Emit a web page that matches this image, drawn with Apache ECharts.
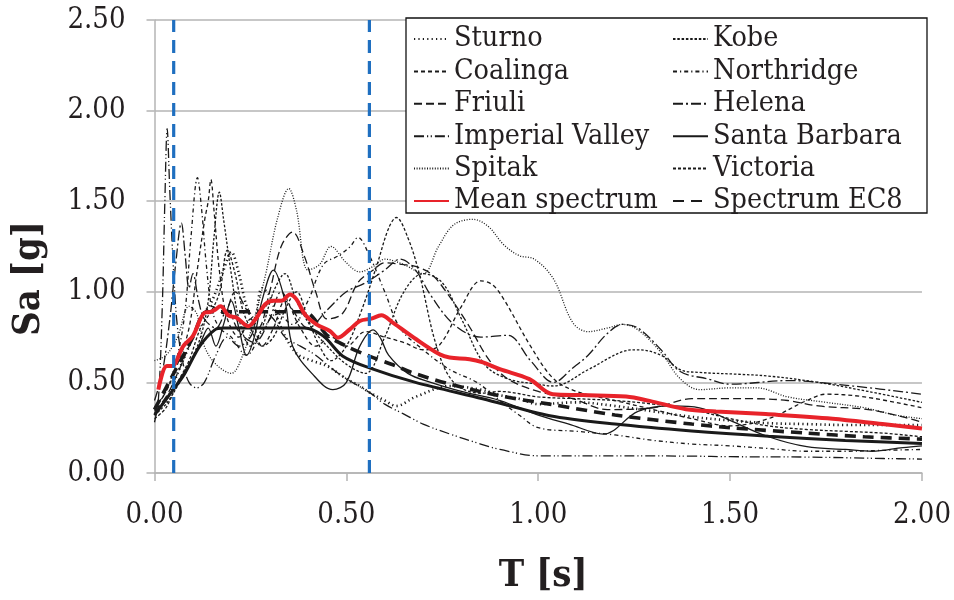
<!DOCTYPE html>
<html><head><meta charset="utf-8">
<script src="https://cdn.jsdelivr.net/npm/echarts@6/dist/echarts.min.js"></script>
<style>html,body{margin:0;padding:0;background:#fff}#c{width:954px;height:600px}</style>
</head><body><div id="c"></div>
<script>
// ---- data: [period T (s), spectral acceleration Sa (g)] ----
const sturno = [[0,0.35],[0.03,0.4],[0.06,0.55],[0.09,0.7],[0.12,0.85],[0.15,0.95],[0.18,1.12],[0.2,1.22],[0.22,1.1],[0.24,0.92],[0.26,0.85],[0.28,1.02],[0.3,0.98],[0.33,0.8],[0.37,0.66],[0.41,0.62],[0.45,0.59],[0.5,0.52],[0.535,0.48],[0.56,0.445],[0.6,0.4],[0.63,0.37],[0.68,0.42],[0.77,0.48],[0.85,0.46],[0.9,0.43],[0.95,0.41],[1.0,0.38],[1.1,0.39],[1.2,0.37],[1.3,0.34],[1.4,0.31],[1.5,0.29],[1.6,0.275],[1.7,0.27],[1.8,0.265],[1.9,0.265],[2.0,0.265]];
const kobe = [[0,0.32],[0.03,0.38],[0.06,0.48],[0.09,0.6],[0.12,0.75],[0.14,0.95],[0.155,1.3],[0.169,1.55],[0.18,1.4],[0.2,1.1],[0.22,0.85],[0.25,0.7],[0.28,0.8],[0.31,1.0],[0.34,1.1],[0.37,0.95],[0.41,0.8],[0.45,0.7],[0.5,0.6],[0.55,0.55],[0.6,0.75],[0.65,1.0],[0.7,1.1],[0.75,1.05],[0.8,0.85],[0.86,0.6],[0.92,0.52],[1.0,0.49],[1.04,0.48],[1.13,0.57],[1.22,0.67],[1.26,0.68],[1.32,0.65],[1.37,0.57],[1.42,0.555],[1.52,0.545],[1.6,0.535],[1.73,0.5],[1.86,0.45],[2.0,0.39]];
const coalinga = [[0,0.36],[0.03,0.45],[0.06,0.6],[0.09,0.8],[0.11,1.1],[0.131,1.4],[0.14,1.5],[0.147,1.62],[0.155,1.45],[0.17,1.1],[0.19,0.85],[0.22,0.75],[0.25,0.85],[0.28,0.7],[0.31,0.8],[0.34,0.95],[0.38,0.8],[0.42,0.7],[0.46,0.75],[0.5,0.7],[0.55,0.78],[0.6,0.75],[0.65,0.72],[0.7,0.68],[0.74,0.7],[0.8,0.92],[0.85,1.06],[0.88,1.04],[0.91,0.96],[0.98,0.7],[1.04,0.52],[1.1,0.45],[1.2,0.4],[1.3,0.35],[1.4,0.3],[1.5,0.26],[1.6,0.3],[1.7,0.4],[1.75,0.435],[1.85,0.42],[2.0,0.36]];
const northridge = [[0,0.36],[0.03,0.45],[0.06,0.65],[0.08,0.9],[0.095,1.3],[0.112,1.63],[0.123,1.45],[0.135,1.15],[0.15,0.9],[0.17,0.8],[0.2,0.75],[0.24,0.65],[0.28,0.78],[0.32,0.88],[0.36,0.82],[0.4,0.95],[0.44,1.15],[0.48,1.2],[0.51,1.25],[0.53,1.3],[0.56,1.2],[0.6,1.0],[0.64,0.8],[0.7,0.68],[0.77,0.57],[0.84,0.5],[0.9,0.4],[0.95,0.32],[1.0,0.25],[1.1,0.23],[1.2,0.21],[1.3,0.18],[1.4,0.16],[1.5,0.15],[1.6,0.135],[1.7,0.12],[1.8,0.12],[1.9,0.125],[2.0,0.13]];
const friuli = [[0,0.34],[0.03,0.42],[0.06,0.55],[0.09,0.7],[0.12,0.85],[0.15,0.92],[0.18,0.88],[0.21,1.0],[0.24,0.9],[0.27,0.8],[0.3,1.0],[0.33,1.25],[0.36,1.33],[0.39,1.2],[0.42,1.0],[0.45,0.85],[0.49,0.88],[0.53,1.05],[0.57,1.12],[0.6,1.16],[0.65,1.15],[0.68,1.14],[0.72,1.1],[0.76,1.0],[0.82,0.81],[0.87,0.63],[0.92,0.52],[1.0,0.45],[1.09,0.41],[1.18,0.35],[1.3,0.36],[1.4,0.41],[1.5,0.41],[1.56,0.41],[1.65,0.4],[1.73,0.37],[1.86,0.35],[1.95,0.31],[2.0,0.28]];
const helena = [[0,0.4],[0.02,0.55],[0.04,0.85],[0.055,1.15],[0.07,1.38],[0.08,1.2],[0.09,1.02],[0.1,1.1],[0.115,0.95],[0.13,0.85],[0.16,0.8],[0.19,0.9],[0.22,0.78],[0.26,0.72],[0.3,0.85],[0.33,1.0],[0.36,0.9],[0.4,0.8],[0.45,0.9],[0.5,1.0],[0.55,1.05],[0.6,1.12],[0.64,1.18],[0.68,1.12],[0.72,0.98],[0.78,0.82],[0.85,0.75],[0.92,0.76],[0.98,0.62],[1.04,0.5],[1.09,0.58],[1.13,0.65],[1.18,0.77],[1.22,0.82],[1.26,0.8],[1.32,0.68],[1.37,0.56],[1.44,0.52],[1.5,0.49],[1.65,0.51],[1.82,0.48],[2.0,0.435]];
const imperialValley = [[0,0.28],[0.01,0.4],[0.02,0.9],[0.027,1.5],[0.033,1.9],[0.04,1.55],[0.05,1.1],[0.06,0.8],[0.075,0.6],[0.09,0.5],[0.11,0.47],[0.13,0.5],[0.16,0.65],[0.19,0.75],[0.22,0.7],[0.25,0.75],[0.28,0.9],[0.31,0.85],[0.34,0.75],[0.38,0.7],[0.42,0.65],[0.46,0.58],[0.5,0.52],[0.56,0.445],[0.6,0.38],[0.65,0.325],[0.7,0.27],[0.77,0.215],[0.85,0.16],[0.9,0.13],[1.0,0.095],[1.2,0.095],[1.4,0.093],[1.5,0.09],[1.7,0.088],[1.9,0.08],[2.0,0.077]];
const santaBarbara = [[0,0.33],[0.03,0.4],[0.06,0.5],[0.09,0.6],[0.12,0.72],[0.14,0.8],[0.16,0.7],[0.18,0.82],[0.2,0.95],[0.22,0.8],[0.24,0.65],[0.26,0.75],[0.28,0.95],[0.31,1.12],[0.34,0.95],[0.36,0.7],[0.41,0.55],[0.465,0.46],[0.5,0.5],[0.535,0.7],[0.57,0.79],[0.59,0.74],[0.61,0.65],[0.66,0.55],[0.72,0.5],[0.8,0.45],[0.9,0.4],[1.0,0.32],[1.08,0.27],[1.17,0.215],[1.26,0.34],[1.35,0.37],[1.42,0.36],[1.5,0.29],[1.6,0.2],[1.7,0.145],[1.8,0.13],[1.87,0.12],[1.95,0.14],[2.0,0.15]];
const spitak = [[0,0.62],[0.03,0.65],[0.06,0.75],[0.09,0.92],[0.11,0.88],[0.13,0.7],[0.16,0.6],[0.2,0.55],[0.23,0.65],[0.26,0.85],[0.29,1.1],[0.32,1.4],[0.35,1.57],[0.37,1.45],[0.4,1.12],[0.43,1.15],[0.46,1.25],[0.5,1.16],[0.535,1.11],[0.57,1.14],[0.6,1.18],[0.65,1.15],[0.7,1.1],[0.74,1.25],[0.78,1.37],[0.83,1.4],[0.87,1.36],[0.91,1.26],[0.95,1.2],[0.99,1.18],[1.04,1.07],[1.09,0.83],[1.13,0.78],[1.18,0.8],[1.22,0.82],[1.26,0.79],[1.32,0.665],[1.37,0.52],[1.42,0.46],[1.5,0.47],[1.57,0.47],[1.65,0.42],[1.75,0.39],[1.85,0.36],[1.93,0.32],[2.0,0.3]];
const victoria = [[0,0.3],[0.03,0.36],[0.06,0.5],[0.09,0.62],[0.12,0.8],[0.15,0.9],[0.17,1.0],[0.19,1.23],[0.21,1.1],[0.23,0.9],[0.25,0.8],[0.28,0.7],[0.31,0.75],[0.34,0.9],[0.37,1.0],[0.4,0.85],[0.43,0.7],[0.46,0.62],[0.5,0.7],[0.54,0.9],[0.58,1.15],[0.61,1.35],[0.63,1.41],[0.66,1.3],[0.69,1.1],[0.735,0.7],[0.78,0.5],[0.85,0.44],[0.9,0.45],[1.0,0.42],[1.1,0.41],[1.2,0.4],[1.3,0.38],[1.4,0.35],[1.5,0.3],[1.6,0.26],[1.7,0.24],[1.8,0.23],[1.9,0.22],[2.0,0.2]];
const meanSpectrum = [[0.01,0.46],[0.032,0.59],[0.045,0.59],[0.075,0.7],[0.1,0.756],[0.131,0.885],[0.144,0.888],[0.157,0.9],[0.172,0.92],[0.192,0.87],[0.214,0.857],[0.244,0.81],[0.266,0.857],[0.288,0.93],[0.309,0.95],[0.331,0.95],[0.353,0.985],[0.37,0.958],[0.392,0.875],[0.422,0.82],[0.457,0.784],[0.478,0.747],[0.509,0.793],[0.535,0.839],[0.565,0.852],[0.591,0.87],[0.621,0.83],[0.682,0.738],[0.743,0.655],[0.769,0.637],[0.821,0.628],[0.856,0.61],[0.9,0.573],[0.977,0.518],[1.038,0.435],[1.116,0.43],[1.229,0.422],[1.29,0.398],[1.385,0.352],[1.463,0.34],[1.593,0.325],[1.767,0.3],[1.897,0.27],[2.0,0.246]];
const spectrumEC8 = [[0,0.35],[0.05,0.55],[0.1,0.75],[0.13,0.885],[0.15,0.89],[0.2,0.89],[0.3,0.89],[0.39,0.89],[0.45,0.76],[0.5,0.7],[0.56,0.645],[0.63,0.59],[0.67,0.555],[0.77,0.49],[0.9,0.426],[1.03,0.38],[1.2,0.32],[1.4,0.27],[1.5,0.25],[1.7,0.22],[1.85,0.2],[2.0,0.187]];
const designSpectrum = [[0,0.32],[0.04,0.435],[0.075,0.535],[0.118,0.7],[0.157,0.79],[0.18,0.8],[0.25,0.8],[0.3,0.8],[0.36,0.8],[0.39,0.8],[0.44,0.756],[0.49,0.646],[0.56,0.58],[0.68,0.5],[0.855,0.41],[1.03,0.316],[1.2,0.27],[1.4,0.232],[1.6,0.203],[1.8,0.18],[2.0,0.163]];
const limitPeriods = [0.05, 0.56];
const legendLeftColumn = ['Sturno', 'Coalinga', 'Friuli', 'Imperial Valley', 'Spitak', 'Mean spectrum'];
const legendRightColumn = ['Kobe', 'Northridge', 'Helena', 'Santa Barbara', 'Victoria', 'Spectrum EC8'];

const FONT = "'DejaVu Serif Condensed', 'DejaVu Serif', serif";
const INK = '#231f20';
const BLK = '#1a1a1a';
const GRID = '#b4b4b4';

function rec(name, data, type, width) {
  return { name, type: 'line', data, smooth: 0.35, symbol: 'none', silent: true, z: 3,
    lineStyle: { color: BLK, width: width || 1.3, type: type, cap: 'butt' } };
}
const series = [
  rec('Sturno', sturno, [1.2, 3.2], 2.6),
  rec('Kobe', kobe, [2.5, 1.8]),
  rec('Coalinga', coalinga, [4, 3]),
  rec('Northridge', northridge, [4, 3, 1.2, 3]),
  rec('Friuli', friuli, [8, 4]),
  rec('Helena', helena, [10, 3, 2, 3]),
  rec('Imperial Valley', imperialValley, [10, 3, 1.2, 2.5, 1.2, 3]),
  rec('Santa Barbara', santaBarbara, 'solid'),
  rec('Spitak', spitak, [1, 1.6]),
  rec('Victoria', victoria, [3, 2]),
  { name: 'Design', type: 'line', data: designSpectrum, smooth: 0.3, symbol: 'none', silent: true, z: 4,
    lineStyle: { color: BLK, width: 3 } },
  { name: 'Spectrum EC8', type: 'line', data: spectrumEC8, smooth: 0.3, symbol: 'none', silent: true, z: 4,
    lineStyle: { color: BLK, width: 3.6, type: [11, 7] } },
  { name: 'Mean spectrum', type: 'line', data: meanSpectrum, smooth: 0.35, symbol: 'none', silent: true, z: 5,
    lineStyle: { color: '#e8232a', width: 4 } }
];
limitPeriods.forEach((t, i) => series.push({
  name: 'limit' + i, type: 'line', data: [[t, 0], [t, 2.5]], symbol: 'none', silent: true, z: 6,
  lineStyle: { color: '#1f6fc0', width: 3.2, type: [13, 8] }
}));

const legendText = { fontFamily: FONT, fontSize: 28.5, color: INK, lineHeight: 30 };
const legendBase = { orient: 'vertical', top: 24, padding: 0, itemWidth: 35, itemHeight: 14, itemGap: 2.4,
  selectedMode: false, z: 120, textStyle: legendText, itemStyle: { opacity: 0 } };

const chart = echarts.init(document.getElementById('c'), null, { renderer: 'canvas' });
chart.setOption({
  animation: false,
  backgroundColor: '#fff',
  grid: { left: 154.5, right: 31, top: 20, bottom: 126 },
  xAxis: {
    type: 'value', min: 0, max: 2, interval: 0.5,
    name: 'T [s]', nameLocation: 'middle', nameGap: 84,
    nameTextStyle: { fontFamily: FONT, fontSize: 38, fontWeight: 'bold', color: INK, padding: [0, 0, 0, 10] },
    axisLine: { show: true, lineStyle: { color: GRID, width: 1.5 } },
    axisTick: { show: true, length: 8, lineStyle: { color: GRID, width: 1.5 } },
    splitLine: { show: false },
    axisLabel: { fontFamily: FONT, fontSize: 29, color: INK, margin: 28, formatter: v => v.toFixed(2) }
  },
  yAxis: {
    type: 'value', min: 0, max: 2.5, interval: 0.5,
    name: 'Sa [g]', nameLocation: 'middle', nameGap: 106,
    nameTextStyle: { fontFamily: FONT, fontSize: 38, fontWeight: 'bold', color: INK, padding: [0, 64, 0, 0] },
    axisLine: { show: true, lineStyle: { color: GRID, width: 1.5 } },
    axisTick: { show: true, length: 8, lineStyle: { color: GRID, width: 1.5 } },
    splitLine: { show: true, lineStyle: { color: GRID, width: 1.5 } },
    axisLabel: { fontFamily: FONT, fontSize: 29, color: INK, margin: 29, formatter: v => v.toFixed(2) }
  },
  legend: [
    Object.assign({}, legendBase, { left: 413, data: legendLeftColumn }),
    Object.assign({}, legendBase, { left: 672, data: legendRightColumn })
  ],
  graphic: [{ type: 'rect', z: 100, silent: true, shape: { x: 406, y: 18, width: 521, height: 195 },
    style: { fill: '#fff', stroke: '#111', lineWidth: 1.3 } }],
  series
});
</script></body></html>
